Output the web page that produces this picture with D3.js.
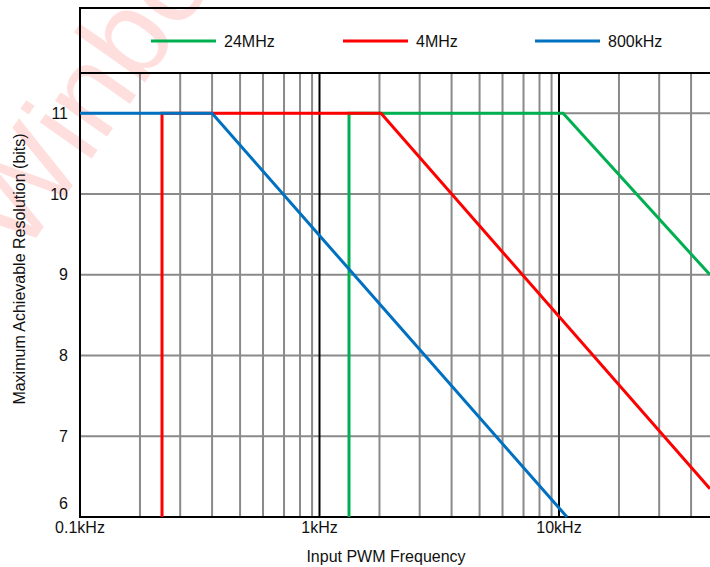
<!DOCTYPE html>
<html>
<head>
<meta charset="utf-8">
<script src="https://cdn.jsdelivr.net/npm/d3@7/dist/d3.min.js"></script>
<style>
  html, body { margin: 0; padding: 0; background: #fff; }
  svg { display: block; font-family: "Liberation Sans", Arial, sans-serif; }
</style>
</head>
<body>
<svg id="chart" width="710" height="567"></svg>
<script>
// ---- data ----
const seriesNames = ["24MHz", "4MHz", "800kHz"];
const seriesColors = ["#00b050", "#ff0000", "#0070c0"];
// points: [frequency in Hz, bits]
const green24MHz = [[1328, 6], [1328, 11], [10400, 11], [42700, 9.0]];
const red4MHz    = [[220, 6], [220, 11], [1806, 11], [42700, 6.35]];
const blue800kHz = [[100, 11], [356, 11], [10800, 6]];
const majorTicks = [100, 1000, 10000];
const majorLabels = ["0.1kHz", "1kHz", "10kHz"];
const minorMultipliers = [1.78, 2.62, 3.56, 4.66, 5.81, 7.11, 8.29, 9.31];
const yTicks = [6, 7, 8, 9, 10, 11];
const xTitle = "Input PWM Frequency";
const yTitle = "Maximum Achievable Resolution (bits)";

const svg = d3.select("#chart");
const left = 80, bottom = 517, plotTop = 73, boxTop = 8, decade = 239.5;

const x = d3.scaleLog().domain([100, 100000]).range([left, left + 3 * decade]);
const y = d3.scaleLinear().domain([6, 11.5]).range([bottom, plotTop]);

// watermark (behind)
svg.append("text")
  .attr("transform", "translate(22,258) rotate(-55)")
  .attr("font-size", 120)
  .attr("fill", "rgba(255,0,0,0.13)")
  .text("Winbond");

const minorVals = [];
majorTicks.forEach(d => minorMultipliers.forEach(m => minorVals.push(d * m)));

const g = svg.append("g");
// horizontal gridlines
g.selectAll("line.hg").data(yTicks.filter(v => v > 6)).enter().append("line")
  .attr("x1", left).attr("x2", 710)
  .attr("y1", d => y(d)).attr("y2", d => y(d))
  .attr("stroke", "#8a8a8a").attr("stroke-width", 2);
// minor vertical gridlines
g.selectAll("line.mg").data(minorVals).enter().append("line")
  .attr("x1", d => x(d)).attr("x2", d => x(d))
  .attr("y1", plotTop).attr("y2", bottom)
  .attr("stroke", "#8a8a8a").attr("stroke-width", 2);
// major vertical lines
g.selectAll("line.Mg").data(majorTicks.slice(1)).enter().append("line")
  .attr("x1", d => x(d)).attr("x2", d => x(d))
  .attr("y1", plotTop).attr("y2", bottom)
  .attr("stroke", "#000").attr("stroke-width", 2);

// frame
const frame = svg.append("g").attr("stroke", "#000").attr("stroke-width", 2);
frame.append("line").attr("x1", left).attr("x2", 710).attr("y1", boxTop).attr("y2", boxTop);
frame.append("line").attr("x1", left).attr("x2", 710).attr("y1", plotTop).attr("y2", plotTop);
frame.append("line").attr("x1", left).attr("x2", 710).attr("y1", bottom).attr("y2", bottom);
frame.append("line").attr("x1", left).attr("x2", left).attr("y1", boxTop - 1).attr("y2", bottom + 1);

// series
const line = d3.line().x(d => x(d[0])).y(d => y(d[1]));
const allSeries = [green24MHz, red4MHz, blue800kHz];
allSeries.forEach((s, i) => {
  svg.append("path").datum(s).attr("d", line)
    .attr("fill", "none").attr("stroke", seriesColors[i])
    .attr("stroke-width", 3).attr("stroke-linejoin", "miter");
});

// legend
const legendX = [151, 343, 535];
seriesNames.forEach((n, i) => {
  svg.append("line").attr("x1", legendX[i]).attr("x2", legendX[i] + 65)
    .attr("y1", 41).attr("y2", 41)
    .attr("stroke", seriesColors[i]).attr("stroke-width", 3);
  svg.append("text").attr("x", legendX[i] + 73).attr("y", 41).attr("dy", "0.35em")
    .attr("font-size", 16).attr("fill", "#111").text(n);
});

// y tick labels
svg.selectAll("text.yt").data(yTicks).enter().append("text")
  .attr("x", 68).attr("y", d => d === 6 ? y(d) - 14 : y(d)).attr("dy", "0.35em")
  .attr("text-anchor", "end").attr("font-size", 16).attr("fill", "#111")
  .text(d => d);
// x tick labels
svg.selectAll("text.xt").data(majorTicks).enter().append("text")
  .attr("x", d => x(d)).attr("y", 533)
  .attr("text-anchor", "middle").attr("font-size", 16).attr("fill", "#111")
  .text((d, i) => majorLabels[i]);

// axis titles
svg.append("text").attr("x", 386).attr("y", 562).attr("text-anchor", "middle")
  .attr("font-size", 16).attr("fill", "#111").text(xTitle);
svg.append("text").attr("transform", "translate(25,269) rotate(-90)")
  .attr("text-anchor", "middle").attr("font-size", 16).attr("fill", "#111").text(yTitle);
</script>
</body>
</html>
